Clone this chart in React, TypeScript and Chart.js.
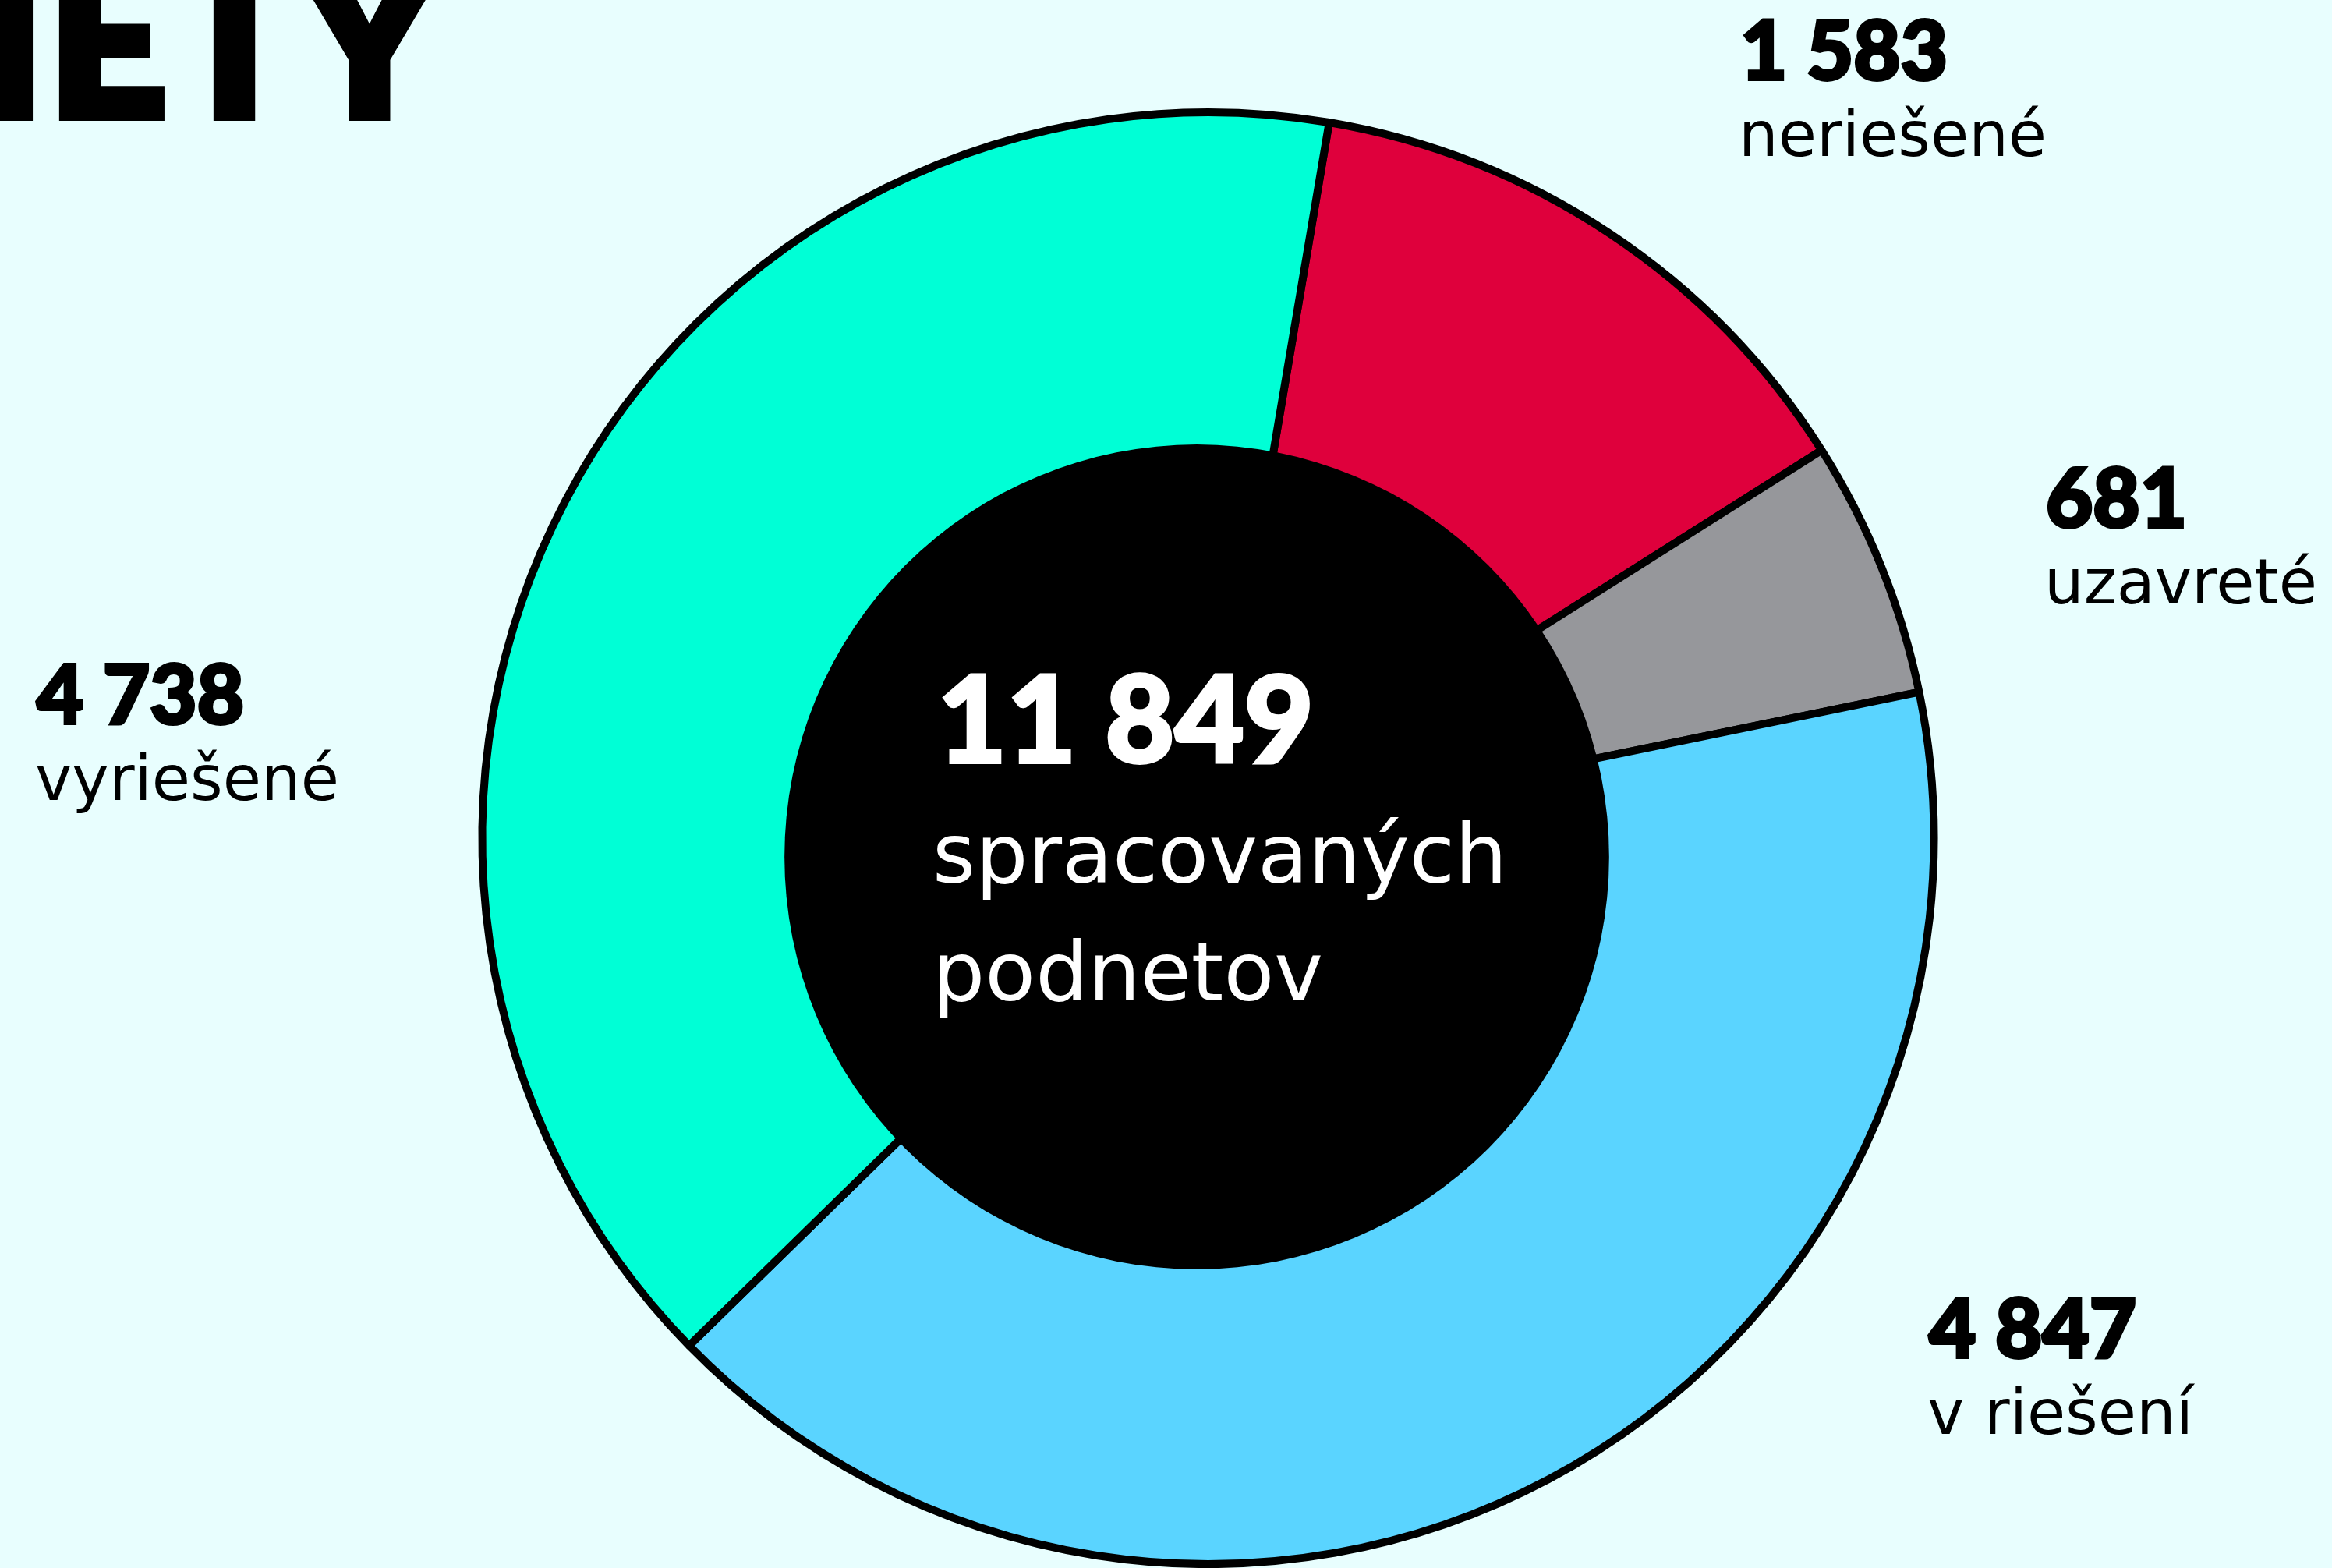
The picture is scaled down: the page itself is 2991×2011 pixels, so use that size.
import React, { useEffect, useRef } from "react";
import { Chart, registerables } from "chart.js";

Chart.register(...registerables);

const categories = ["neriešené", "uzavreté", "v riešení", "vyriešené"];
const values = [1583, 681, 4847, 4738];
const colors = ["#DF003C", "#96979B", "#5AD4FF", "#00FFD6"];
const centerTitle = ["spracovaných", "podnetov"];
const headline = "PODNIETY";

const fmt = (n: number) => String(n).replace(/\B(?=(\d{3})+(?!\d))/g, " ");

// label anchor positions (left x, number baseline y) in canvas px
const labelX = [2232, 2624, 2474, 47];
const labelY = [104, 678, 1743, 930];

const BG = "#E8FEFE";
const HEAVY = "Lato";

export default function App() {
  const ref = useRef<HTMLCanvasElement | null>(null);
  useEffect(() => {
    const canvas = ref.current!;
    const heavyText = (ctx: any, s: string, x: number, y: number, w: number) => {
      ctx.lineWidth = w;
      ctx.lineJoin = "miter";
      ctx.strokeStyle = ctx.fillStyle;
      ctx.strokeText(s, x, y);
      ctx.fillText(s, x, y);
    };
    const overlay = {
      id: "overlay",
      beforeDraw(chart: any) {
        const ctx = chart.ctx;
        ctx.save();
        ctx.fillStyle = BG;
        ctx.fillRect(0, 0, chart.width, chart.height);
        ctx.restore();
      },
      afterDatasetsDraw(chart: any) {
        const ctx = chart.ctx;
        const arc = chart.getDatasetMeta(0).data[0] as any;
        const { x, y, outerRadius } = arc.getProps(["x", "y", "outerRadius"], true);
        const R = outerRadius + 5;
        ctx.save();
        ctx.beginPath();
        ctx.arc(x - R * 0.0155, y + R * 0.0256, R * 0.565, 0, Math.PI * 2);
        ctx.fillStyle = "#000";
        ctx.fill();
        ctx.restore();
      },
      afterDraw(chart: any) {
        const ctx = chart.ctx;
        ctx.save();
        ctx.textAlign = "left";
        ctx.textBaseline = "alphabetic";
        // headline (cut off at top-left)
        ctx.fillStyle = "#000";
        ctx.font = `900 262px ${HEAVY}`;
        ctx.textAlign = "right";
        (ctx as any).letterSpacing = "8px";
        heavyText(ctx, headline, 568, 148, 14);
        (ctx as any).letterSpacing = "0px";
        ctx.textAlign = "left";
        // segment labels
        categories.forEach((c, i) => {
          ctx.fillStyle = "#000";
          ctx.font = `900 104px ${HEAVY}`;
          heavyText(ctx, fmt(values[i]), labelX[i], labelY[i] - 2, 4);
          ctx.font = "80px 'DejaVu Sans'";
          ctx.fillText(c, labelX[i] - 2, labelY[i] + 96);
        });
        // center
        const total = values.reduce((a, b) => a + b, 0);
        ctx.fillStyle = "#fff";
        ctx.font = `900 154px ${HEAVY}`;
        (ctx as any).letterSpacing = "0px";
        heavyText(ctx, fmt(total), 1202, 978, 4);
        ctx.font = "106px 'DejaVu Sans'";
        ctx.fillText(centerTitle[0], 1196, 1132);
        ctx.fillText(centerTitle[1], 1196, 1283);
        ctx.restore();
      },
    };
    const chart = new Chart(canvas, {
      type: "doughnut",
      data: {
        labels: categories,
        datasets: [
          {
            data: values,
            backgroundColor: colors,
            borderColor: "#000",
            borderWidth: 10,
            hoverOffset: 0,
          },
        ],
      },
      options: {
        responsive: false,
        animation: false,
        devicePixelRatio: 1,
        rotation: 9.6,
        cutout: "45%",
        layout: { padding: { left: 612, right: 504, top: 139, bottom: 0 } },
        plugins: {
          legend: { display: false },
          tooltip: { enabled: false },
          title: { display: false },
        },
      },
      plugins: [overlay],
    });
    return () => chart.destroy();
  }, []);
  return (
    <div style={{ position: "fixed", left: 0, top: 0, width: 2991, height: 2011, background: BG }}>
      <canvas ref={ref} width={2991} height={2011} style={{ width: 2991, height: 2011, display: "block" }} />
    </div>
  );
}
